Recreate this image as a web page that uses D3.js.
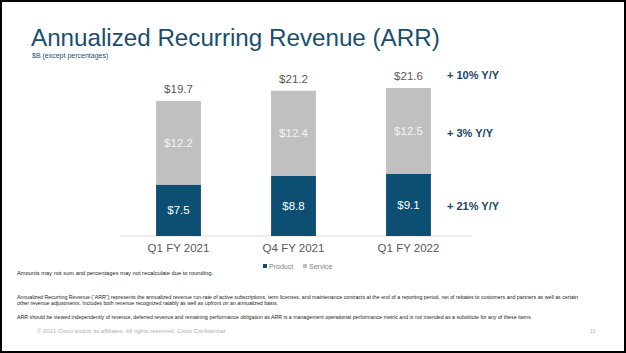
<!DOCTYPE html>
<html>
<head>
<meta charset="utf-8">
<script src="https://cdn.jsdelivr.net/npm/d3@7"></script>
<style>
  body { margin: 0; background: #fff; }
  svg { display: block; font-family: "Liberation Sans", Arial, sans-serif; }
</style>
</head>
<body>
<svg width="626" height="353"></svg>
<script>
let width = 626, height = 353;

// Data
let periods = ["Q1 FY 2021", "Q4 FY 2021", "Q1 FY 2022"];
let product = [7.5, 8.8, 9.1];
let service = [12.2, 12.4, 12.5];
let totals = [19.7, 21.2, 21.6];
let growth = ["+ 10% Y/Y", "+ 3% Y/Y", "+ 21% Y/Y"];   // total, service, product
let legendKeys = ["Product", "Service"];

let colors = { Product: "#0d4f73", Service: "#c0c0c0" };

let svg = d3.select("svg");

// frame
svg.append("rect")
    .attr("x", 1).attr("y", 1)
    .attr("width", width - 2).attr("height", height - 2)
    .attr("fill", "none")
    .attr("stroke", "#000")
    .attr("stroke-width", 2);

// title
svg.append("text")
    .attr("x", 31).attr("y", 46)
    .attr("font-size", 24.2)
    .attr("fill", "#1a4e6e")
    .text("Annualized Recurring Revenue (ARR)");

svg.append("text")
    .attr("x", 32).attr("y", 58)
    .attr("font-size", 7)
    .attr("fill", "#1a4e6e")
    .text("$B (except percentages)");

// scales
let x = d3.scaleBand()
    .domain(periods)
    .range([121, 466])
    .paddingInner(0.61)
    .paddingOuter(0.305);

let y = d3.scaleLinear()
    .domain([0, 21.6])
    .range([236, 88]);

let rows = periods.map((p, i) => ({ period: p, Product: product[i], Service: service[i], total: totals[i] }));
let stacked = d3.stack().keys(legendKeys)(rows);

// baseline
svg.append("line")
    .attr("x1", 120).attr("x2", 472)
    .attr("y1", y(0)).attr("y2", y(0))
    .attr("stroke", "#d9d9d9")
    .attr("stroke-width", 1);

let layer = svg.append("g").selectAll("g")
    .data(stacked)
    .enter().append("g")
    .attr("fill", d => colors[d.key]);

layer.selectAll("rect")
    .data(d => d)
    .enter().append("rect")
    .attr("x", d => x(d.data.period))
    .attr("width", x.bandwidth())
    .attr("y", d => y(d[1]))
    .attr("height", d => y(d[0]) - y(d[1]));

// labels inside segments
layer.selectAll("text")
    .data(d => d)
    .enter().append("text")
    .attr("x", d => x(d.data.period) + x.bandwidth() / 2)
    .attr("y", d => (y(d[0]) + y(d[1])) / 2 + 4)
    .attr("text-anchor", "middle")
    .attr("font-size", 11.5)
    .attr("fill", "#ffffff")
    .attr("fill-opacity", (d, i, n) => n[i].parentNode.__data__.key == "Service" ? 0.85 : 1)
    .text(d => "$" + (d[1] - d[0]).toFixed(1));

// totals
svg.append("g").selectAll("text")
    .data(rows)
    .enter().append("text")
    .attr("x", d => x(d.period) + x.bandwidth() / 2)
    .attr("y", d => y(d.total) - 8)
    .attr("text-anchor", "middle")
    .attr("font-size", 11.5)
    .attr("fill", "#595959")
    .text(d => "$" + d.total.toFixed(1));

// category axis
let xAxis = svg.append("g")
    .attr("transform", "translate(0," + y(0) + ")")
    .call(d3.axisBottom(x).tickSize(0).tickPadding(8));
xAxis.select(".domain").remove();
xAxis.selectAll("text")
    .attr("font-family", "Liberation Sans, Arial, sans-serif")
    .attr("font-size", 11.5)
    .attr("fill", "#595959");

// growth notes
let growthY = [75, 133, 206];
svg.append("g").selectAll("text")
    .data(growth)
    .enter().append("text")
    .attr("x", 447)
    .attr("y", (d, i) => growthY[i] + 4)
    .attr("font-size", 11)
    .attr("font-weight", "bold")
    .attr("fill", "#1a4566")
    .text(d => d);

// legend
let legend = svg.append("g").attr("transform", "translate(263,267)");
let lx = [0, 40];
legendKeys.forEach((k, i) => {
    legend.append("rect")
        .attr("x", lx[i]).attr("y", -3)
        .attr("width", 4).attr("height", 4)
        .attr("fill", colors[k]);
    legend.append("text")
        .attr("x", lx[i] + 6).attr("y", 1.5)
        .attr("font-size", 7)
        .attr("fill", "#7f7f7f")
        .text(k);
});

// footnotes
let notes = [
    { t: "Amounts may not sum and percentages may not recalculate due to rounding.", y: 275, w: 196 },
    { t: "Annualized Recurring Revenue (\u201cARR\u201d) represents the annualized revenue run-rate of active subscriptions, term licenses, and maintenance contracts at the end of a reporting period, net of rebates to customers and partners as well as certain", y: 299, w: 561 },
    { t: "other revenue adjustments. Includes both revenue recognized ratably as well as upfront on an annualized basis.", y: 305, w: 261 },
    { t: "ARR should be viewed independently of revenue, deferred revenue and remaining performance obligation as ARR is a management operational performance metric and is not intended as a substitute for any of these items.", y: 319, w: 515 }
];
svg.append("g").selectAll("text")
    .data(notes)
    .enter().append("text")
    .attr("x", 17)
    .attr("y", d => d.y)
    .attr("font-size", 5)
    .attr("fill", "#222")
    .attr("textLength", d => d.w)
    .attr("lengthAdjust", "spacingAndGlyphs")
    .text(d => d.t);

svg.append("text")
    .attr("x", 37).attr("y", 333)
    .attr("font-size", 5)
    .attr("fill", "#b0b0b0")
    .attr("textLength", 188)
    .attr("lengthAdjust", "spacingAndGlyphs")
    .text("\u00a9 2021  Cisco and/or its affiliates. All rights reserved.   Cisco Confidential");

svg.append("text")
    .attr("x", 590).attr("y", 333)
    .attr("font-size", 5)
    .attr("fill", "#b0b0b0")
    .text("10");
</script>
</body>
</html>
